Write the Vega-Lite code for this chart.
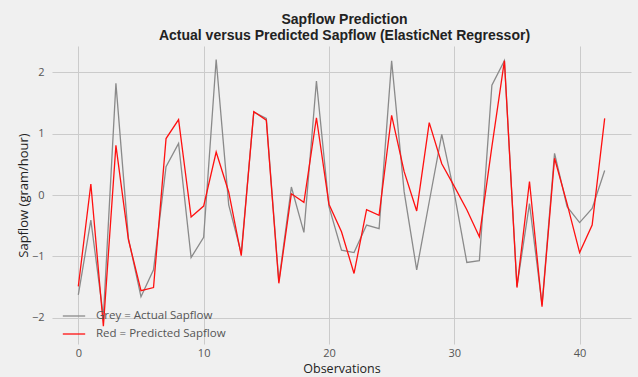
{
  "$schema": "https://vega.github.io/schema/vega-lite/v6.json",
  "autosize": {"type": "none"},
  "width": 579,
  "height": 298,
  "padding": {"left": 52, "top": 46, "right": 7, "bottom": 33},
  "background": "#f0f0f0",
  "title": {
    "text": ["Sapflow Prediction", "Actual versus Predicted Sapflow (ElasticNet Regressor)"],
    "font": "Liberation Sans",
    "fontSize": 14,
    "fontWeight": "bold",
    "color": "#222222",
    "lineHeight": 16,
    "offset": 3,
    "anchor": "middle",
    "dx": 3
  },
  "config": {
    "view": {"stroke": null, "fill": "#f0f0f0"},
    "axis": {
      "domain": false,
      "ticks": false,
      "gridColor": "#cbcbcb",
      "gridWidth": 1,
      "labelColor": "#555555",
      "labelFont": "Open Sans",
      "labelFontSize": 11,
      "titleFont": "Open Sans",
      "titleFontSize": 12.5,
      "titleFontWeight": "normal",
      "titleColor": "#222222"
    }
  },
  "data": {
    "values": [
      {"obs": 0, "value": -1.63, "series": "Grey = Actual Sapflow"},
      {"obs": 1, "value": -0.41, "series": "Grey = Actual Sapflow"},
      {"obs": 2, "value": -1.98, "series": "Grey = Actual Sapflow"},
      {"obs": 3, "value": 1.82, "series": "Grey = Actual Sapflow"},
      {"obs": 4, "value": -0.71, "series": "Grey = Actual Sapflow"},
      {"obs": 5, "value": -1.66, "series": "Grey = Actual Sapflow"},
      {"obs": 6, "value": -1.22, "series": "Grey = Actual Sapflow"},
      {"obs": 7, "value": 0.46, "series": "Grey = Actual Sapflow"},
      {"obs": 8, "value": 0.84, "series": "Grey = Actual Sapflow"},
      {"obs": 9, "value": -1.02, "series": "Grey = Actual Sapflow"},
      {"obs": 10, "value": -0.69, "series": "Grey = Actual Sapflow"},
      {"obs": 11, "value": 2.21, "series": "Grey = Actual Sapflow"},
      {"obs": 12, "value": -0.16, "series": "Grey = Actual Sapflow"},
      {"obs": 13, "value": -0.95, "series": "Grey = Actual Sapflow"},
      {"obs": 14, "value": 1.35, "series": "Grey = Actual Sapflow"},
      {"obs": 15, "value": 1.25, "series": "Grey = Actual Sapflow"},
      {"obs": 16, "value": -1.41, "series": "Grey = Actual Sapflow"},
      {"obs": 17, "value": 0.13, "series": "Grey = Actual Sapflow"},
      {"obs": 18, "value": -0.61, "series": "Grey = Actual Sapflow"},
      {"obs": 19, "value": 1.86, "series": "Grey = Actual Sapflow"},
      {"obs": 20, "value": -0.19, "series": "Grey = Actual Sapflow"},
      {"obs": 21, "value": -0.90, "series": "Grey = Actual Sapflow"},
      {"obs": 22, "value": -0.94, "series": "Grey = Actual Sapflow"},
      {"obs": 23, "value": -0.49, "series": "Grey = Actual Sapflow"},
      {"obs": 24, "value": -0.55, "series": "Grey = Actual Sapflow"},
      {"obs": 25, "value": 2.19, "series": "Grey = Actual Sapflow"},
      {"obs": 26, "value": 0.05, "series": "Grey = Actual Sapflow"},
      {"obs": 27, "value": -1.22, "series": "Grey = Actual Sapflow"},
      {"obs": 28, "value": -0.11, "series": "Grey = Actual Sapflow"},
      {"obs": 29, "value": 0.99, "series": "Grey = Actual Sapflow"},
      {"obs": 30, "value": 0.03, "series": "Grey = Actual Sapflow"},
      {"obs": 31, "value": -1.10, "series": "Grey = Actual Sapflow"},
      {"obs": 32, "value": -1.07, "series": "Grey = Actual Sapflow"},
      {"obs": 33, "value": 1.79, "series": "Grey = Actual Sapflow"},
      {"obs": 34, "value": 2.19, "series": "Grey = Actual Sapflow"},
      {"obs": 35, "value": -1.49, "series": "Grey = Actual Sapflow"},
      {"obs": 36, "value": -0.14, "series": "Grey = Actual Sapflow"},
      {"obs": 37, "value": -1.79, "series": "Grey = Actual Sapflow"},
      {"obs": 38, "value": 0.68, "series": "Grey = Actual Sapflow"},
      {"obs": 39, "value": -0.19, "series": "Grey = Actual Sapflow"},
      {"obs": 40, "value": -0.45, "series": "Grey = Actual Sapflow"},
      {"obs": 41, "value": -0.22, "series": "Grey = Actual Sapflow"},
      {"obs": 42, "value": 0.40, "series": "Grey = Actual Sapflow"},
      {"obs": 0, "value": -1.49, "series": "Red = Predicted Sapflow"},
      {"obs": 1, "value": 0.18, "series": "Red = Predicted Sapflow"},
      {"obs": 2, "value": -2.14, "series": "Red = Predicted Sapflow"},
      {"obs": 3, "value": 0.81, "series": "Red = Predicted Sapflow"},
      {"obs": 4, "value": -0.73, "series": "Red = Predicted Sapflow"},
      {"obs": 5, "value": -1.56, "series": "Red = Predicted Sapflow"},
      {"obs": 6, "value": -1.51, "series": "Red = Predicted Sapflow"},
      {"obs": 7, "value": 0.92, "series": "Red = Predicted Sapflow"},
      {"obs": 8, "value": 1.23, "series": "Red = Predicted Sapflow"},
      {"obs": 9, "value": -0.36, "series": "Red = Predicted Sapflow"},
      {"obs": 10, "value": -0.18, "series": "Red = Predicted Sapflow"},
      {"obs": 11, "value": 0.70, "series": "Red = Predicted Sapflow"},
      {"obs": 12, "value": 0.05, "series": "Red = Predicted Sapflow"},
      {"obs": 13, "value": -0.99, "series": "Red = Predicted Sapflow"},
      {"obs": 14, "value": 1.36, "series": "Red = Predicted Sapflow"},
      {"obs": 15, "value": 1.22, "series": "Red = Predicted Sapflow"},
      {"obs": 16, "value": -1.44, "series": "Red = Predicted Sapflow"},
      {"obs": 17, "value": 0.02, "series": "Red = Predicted Sapflow"},
      {"obs": 18, "value": -0.12, "series": "Red = Predicted Sapflow"},
      {"obs": 19, "value": 1.26, "series": "Red = Predicted Sapflow"},
      {"obs": 20, "value": -0.15, "series": "Red = Predicted Sapflow"},
      {"obs": 21, "value": -0.60, "series": "Red = Predicted Sapflow"},
      {"obs": 22, "value": -1.28, "series": "Red = Predicted Sapflow"},
      {"obs": 23, "value": -0.24, "series": "Red = Predicted Sapflow"},
      {"obs": 24, "value": -0.33, "series": "Red = Predicted Sapflow"},
      {"obs": 25, "value": 1.30, "series": "Red = Predicted Sapflow"},
      {"obs": 26, "value": 0.38, "series": "Red = Predicted Sapflow"},
      {"obs": 27, "value": -0.26, "series": "Red = Predicted Sapflow"},
      {"obs": 28, "value": 1.18, "series": "Red = Predicted Sapflow"},
      {"obs": 29, "value": 0.51, "series": "Red = Predicted Sapflow"},
      {"obs": 30, "value": 0.14, "series": "Red = Predicted Sapflow"},
      {"obs": 31, "value": -0.24, "series": "Red = Predicted Sapflow"},
      {"obs": 32, "value": -0.68, "series": "Red = Predicted Sapflow"},
      {"obs": 33, "value": 0.79, "series": "Red = Predicted Sapflow"},
      {"obs": 34, "value": 2.19, "series": "Red = Predicted Sapflow"},
      {"obs": 35, "value": -1.51, "series": "Red = Predicted Sapflow"},
      {"obs": 36, "value": 0.22, "series": "Red = Predicted Sapflow"},
      {"obs": 37, "value": -1.82, "series": "Red = Predicted Sapflow"},
      {"obs": 38, "value": 0.60, "series": "Red = Predicted Sapflow"},
      {"obs": 39, "value": -0.14, "series": "Red = Predicted Sapflow"},
      {"obs": 40, "value": -0.94, "series": "Red = Predicted Sapflow"},
      {"obs": 41, "value": -0.49, "series": "Red = Predicted Sapflow"},
      {"obs": 42, "value": 1.25, "series": "Red = Predicted Sapflow"}
    ]
  },
  "mark": {"type": "line", "strokeWidth": 1.3, "clip": true},
  "encoding": {
    "x": {
      "field": "obs",
      "type": "quantitative",
      "scale": {"domain": [-2.1, 44.1], "nice": false, "zero": false},
      "axis": {"values": [0, 10, 20, 30, 40], "title": "Observations", "labelPadding": 3, "titlePadding": 4}
    },
    "y": {
      "field": "value",
      "type": "quantitative",
      "scale": {"domain": [-2.43, 2.43], "nice": false, "zero": false},
      "axis": {"values": [-2, -1, 0, 1, 2], "title": "Sapflow (gram/hour)", "titleFontSize": 13, "labelPadding": 8, "titlePadding": 1}
    },
    "color": {
      "field": "series",
      "type": "nominal",
      "scale": {"domain": ["Grey = Actual Sapflow", "Red = Predicted Sapflow"], "range": ["#8a8a8a", "#ff1010"]},
      "legend": {
        "title": null,
        "orient": "none",
        "legendX": 10,
        "legendY": 258,
        "symbolType": "stroke",
        "symbolSize": 500,
        "symbolStrokeWidth": 1.3,
        "labelFont": "Open Sans",
        "labelFontSize": 11.5,
        "labelColor": "#555555",
        "rowPadding": 0,
        "symbolOffset": 0,
        "labelOffset": 10
      }
    }
  }
}
